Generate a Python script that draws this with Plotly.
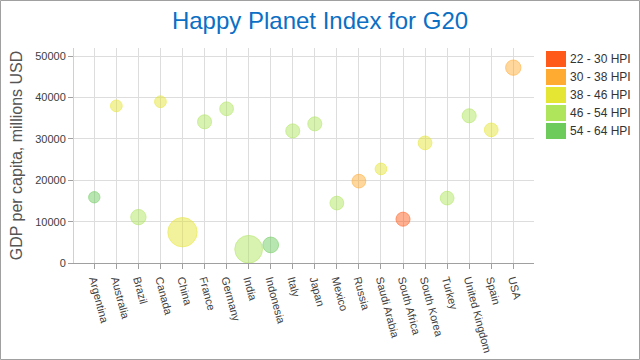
import plotly.graph_objects as go

countries = ["Argentina", "Australia", "Brazil", "Canada", "China", "France", "Germany",
             "India", "Indonesia", "Italy", "Japan", "Mexico", "Russia", "Saudi Arabia",
             "South Africa", "South Korea", "Turkey", "United Kingdom", "Spain", "USA"]
gdp = [15900, 38000, 11100, 39000, 7450, 34150, 37300, 3320, 4370, 31950, 33650,
       14500, 19800, 22750, 10600, 29050, 15700, 35600, 32200, 47250]
hpi = [59.0, 42.0, 52.9, 43.6, 44.7, 46.5, 47.2, 50.9, 55.5, 46.4, 47.5, 52.9, 34.5,
       42.7, 28.2, 43.8, 47.6, 47.9, 44.1, 37.3]
bubble_weight = [12.3, 12.7, 16.3, 12.7, 30.3, 15.0, 14.7, 28.7, 16.7, 15.0, 15.0, 14.7,
                 14.7, 12.7, 15.0, 14.7, 14.7, 15.0, 14.7, 16.3]

group_labels = ["22 - 30 HPI", "30 - 38 HPI", "38 - 46 HPI", "46 - 54 HPI", "54 - 64 HPI"]
group_bounds = [(22, 30), (30, 38), (38, 46), (46, 54), (54, 64)]
group_colors = ["#FF5A19", "#FFAA30", "#E5E533", "#AEE55B", "#6CCB5A"]


def rgba(hex_color, a):
    h = hex_color.lstrip("#")
    return "rgba(%d,%d,%d,%.2f)" % (int(h[0:2], 16), int(h[2:4], 16), int(h[4:6], 16), a)


fig = go.Figure()
for (lo, hi), label, col in zip(group_bounds, group_labels, group_colors):
    idx = [i for i, v in enumerate(hpi) if lo <= v < hi]
    fig.add_trace(go.Scatter(
        x=[countries[i] for i in idx],
        y=[gdp[i] for i in idx],
        mode="markers",
        name=label,
        showlegend=False,
        marker=dict(
            size=[bubble_weight[i] - 1 for i in idx],
            sizemode="diameter",
            color=rgba(col, 0.68),
            line=dict(color=rgba(col, 0.9), width=1),
        ),
    ))

L, R, T, B = 74, 106, 48, 97
W, H = 640, 360
pw, ph = W - L - R, H - T - B


def px_x(px):
    return (px - L) / pw


def px_y(py):
    return (H - B - py) / ph


shapes = [dict(type="rect", xref="paper", yref="paper",
               x0=px_x(0.5), x1=px_x(639.5), y0=px_y(359.5), y1=px_y(0.5),
               line=dict(color="#A0A0A0", width=1), fillcolor="rgba(0,0,0,0)", layer="below")]
annotations = []
for k, (label, col) in enumerate(zip(group_labels, group_colors)):
    top = 51 + 18 * k
    shapes.append(dict(type="rect", xref="paper", yref="paper",
                       x0=px_x(546), x1=px_x(566), y0=px_y(top + 16), y1=px_y(top),
                       line=dict(width=0), fillcolor=col))
    annotations.append(dict(xref="paper", yref="paper", x=px_x(568), y=px_y(top + 8),
                            text=label, showarrow=False, xanchor="left", yanchor="middle",
                            font=dict(size=12, color="#333333", family="Liberation Sans")))

fig.update_layout(
    width=W, height=H,
    margin=dict(l=L, r=R, t=T, b=B, autoexpand=False),
    paper_bgcolor="white", plot_bgcolor="white",
    title=dict(text="Happy Planet Index for G20", x=0.5, xanchor="center",
               y=1 - 21 / H, yanchor="middle",
               font=dict(size=24, color="#0B6FC4", family="Liberation Sans")),
    showlegend=False,
    shapes=shapes,
    annotations=annotations,
    font=dict(family="Liberation Sans", color="#404040"),
)
fig.update_xaxes(
    type="category", categoryorder="array", categoryarray=countries,
    range=[-0.92, 19.94], automargin=False,
    showgrid=True, gridcolor="#DDDDDD", gridwidth=1,
    showline=True, linecolor="#A0A0A0", linewidth=1,
    ticks="outside", ticklen=5, tickcolor="#A0A0A0",
    tickangle=75, tickfont=dict(size=11, color="#404040"),
)
fig.update_yaxes(
    range=[0, 52000], tickvals=[0, 10000, 20000, 30000, 40000, 50000],
    ticktext=["0", "10000", "20000", "30000", "40000", "50000"],
    automargin=False,
    showgrid=True, gridcolor="#DDDDDD", gridwidth=1, zeroline=False,
    showline=True, linecolor="#D0D0D0", linewidth=1,
    ticks="outside", ticklen=5, tickcolor="#A0A0A0",
    tickfont=dict(size=11, color="#404040"),
    title=dict(text="GDP per capita, millions USD", standoff=8,
               font=dict(size=16, color="#555555")),
)

fig.write_html("out.html", config={"displayModeBar": False},
               post_script="document.body.style.margin='0';document.body.style.padding='0';")
